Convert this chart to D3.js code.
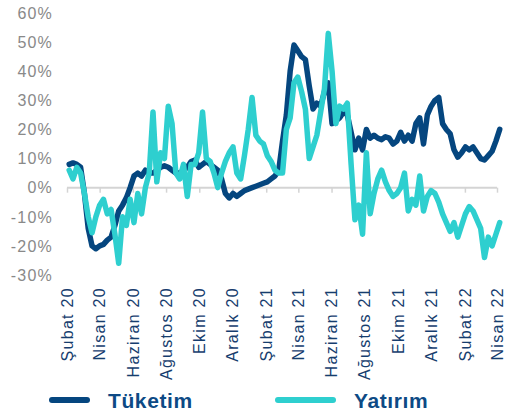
<!doctype html>
<html>
<head>
  <meta charset="utf8">
  <title>sketch</title>
  <style>
    body {
      margin: 0;
      padding: 0;
      background: #fff;
    }
    svg { display: block; }
  </style>
</head>
<body>
  <svg></svg>

  <script src="https://d3js.org/d3.v7.min.js"></script>
  <script>
    // weekly readings, first one on 5 Feb 2020
    const startDate = new Date(2020, 1, 5)

    const tuketim = [
      8, 8.5, 8, 7, -2, -14, -20, -21, -20, -19.5,
      -18, -17, -13, -8, -6, -3.5, 0, 4, 5, 4,
      6, 5, 5, 6, 7, 7.5, 7, 6, 5, 5,
      6, 7, 9, 9.5, 7, 8, 9, 8, 7, 6,
      3, -2, -3.5, -2, -3, -2, -1, -0.5, 0, 0.5,
      1, 1.5, 2, 3, 4, 6, 16, 25, 40, 49,
      47, 45, 44, 35, 27, 29, 28, 33, 36, 22,
      23, 24, 26, 25, 19, 13, 17, 13, 20, 17,
      18, 17, 16.5, 17.5, 17, 15, 16, 19, 16, 18,
      16, 22, 24, 15, 25, 28, 30, 31, 22, 20,
      18.5, 13, 10.5, 12, 14, 13, 14, 12, 10, 9.5,
      11, 12.5, 16, 20
    ]

    const yatirim = [
      6, 3, 7, 5, -2, -10, -15.5, -10, -6, -4,
      -9, -7.5, -16, -26, -10, -13, -4, -12, -2, -9,
      0, 5, 26, 2, 12, 10, 28, 22, 5, 3,
      8, -3, 8, 8, 12, 26, 10, 9, 5, 0,
      5, 9, 12, 14, 5, 3, 11, 20, 31, 18,
      16, 15, 11, 9, 6, 5, 5, 20, 24, 36,
      38, 33, 27, 10, 14, 18, 26, 34, 53, 40,
      22, 28, 27, 29, 8, -11, -6, -16, 12, -9,
      -2, 3, 6, 2, -1, -3, -2, 0, 5, -8,
      -4, -6, 4, -8, -3, -1, -2, -5, -9, -12,
      -15, -12, -17, -13, -9, -6.5, -8, -11, -14, -24,
      -17, -20, -16, -12
    ]

    const dates = d3.timeDay.range(startDate, new Date(2022, 5, 1), 7)
      .slice(0, tuketim.length)

    const tickLabels = ['Şubat 20', 'Nisan 20', 'Haziran 20', 'Ağustos 20', 'Ekim 20',
      'Aralık 20', 'Şubat 21', 'Nisan 21', 'Haziran 21', 'Ağustos 21', 'Ekim 21',
      'Aralık 21', 'Şubat 22', 'Nisan 22']
    const tickDates = d3.timeMonth.range(new Date(2020, 1, 1), new Date(2022, 4, 1), 2)
    const yTicks = [60, 50, 40, 30, 20, 10, 0, -10, -20, -30]

    const seriesNames = ['Tüketim', 'Yatırım']
    const colors = ['#05467f', '#2ecfcf']

    const width = 507
    const height = 413

    const svg = d3.select('svg')
      .attr('width', width)
      .attr('height', height)

    const x = d3.scaleTime()
      .domain([new Date(2020, 1, 1), new Date(2022, 3, 1)])
      .range([67, 497])

    const y = d3.scaleLinear()
      .domain([-30, 60])
      .range([275, 13])

    // y labels, no axis line
    svg.append('g')
      .selectAll('text')
      .data(yTicks)
      .join('text')
      .attr('x', 53)
      .attr('y', d => y(d))
      .attr('dy', '0.36em')
      .attr('text-anchor', 'end')
      .style('font-family', 'Liberation Sans, Arial, sans-serif')
      .style('font-size', '16px')
      .style('letter-spacing', '1.2px')
      .style('fill', '#898989')
      .text(d => d + '%')

    // zero line with ticks
    const xAxis = d3.axisBottom(x)
      .tickValues(tickDates)
      .tickSize(5)
      .tickFormat('')

    const ax = svg.append('g')
      .attr('transform', `translate(0,${y(0)})`)
      .call(xAxis)

    ax.select('.domain')
      .attr('d', `M${x.range()[0]},0H${x.range()[1]}`)
      .style('stroke', '#d4d4d4')
      .style('stroke-width', 2)
    ax.selectAll('.tick line')
      .style('stroke', '#d4d4d4')
      .style('stroke-width', 1.5)

    // rotated month labels at the bottom
    svg.append('g')
      .selectAll('text')
      .data(tickDates)
      .join('text')
      .attr('transform', d => `translate(${x(d)},287) rotate(-90)`)
      .attr('dy', '0.36em')
      .attr('text-anchor', 'end')
      .style('font-family', 'Liberation Sans, Arial, sans-serif')
      .style('font-size', '16px')
      .style('letter-spacing', '1.3px')
      .style('fill', '#163d6e')
      .text((d, i) => tickLabels[i])

    const line = d3.line()
      .x((d, i) => x(dates[i]))
      .y(d => y(d))

    svg.append('g')
      .selectAll('path')
      .data([tuketim, yatirim])
      .join('path')
      .attr('d', line)
      .style('fill', 'none')
      .style('stroke', (d, i) => colors[i])
      .style('stroke-width', 5.5)
      .style('stroke-linejoin', 'round')
      .style('stroke-linecap', 'round')

    // legend
    const legendX = [52, 278]
    const legendLen = [35, 55]
    const legend = svg.append('g')
      .selectAll('g')
      .data(seriesNames)
      .join('g')

    legend.append('line')
      .attr('x1', (d, i) => legendX[i])
      .attr('x2', (d, i) => legendX[i] + legendLen[i])
      .attr('y1', 400)
      .attr('y2', 400)
      .style('stroke', (d, i) => colors[i])
      .style('stroke-width', 6)
      .style('stroke-linecap', 'round')

    legend.append('text')
      .attr('x', (d, i) => legendX[i] + legendLen[i] + 21)
      .attr('y', 408)
      .style('font-family', 'Liberation Sans, Arial, sans-serif')
      .style('font-size', '21px')
      .style('font-weight', 'bold')
      .style('letter-spacing', '0.6px')
      .style('fill', '#0d4a85')
      .text(d => d)
  </script>
</body>
</html>
